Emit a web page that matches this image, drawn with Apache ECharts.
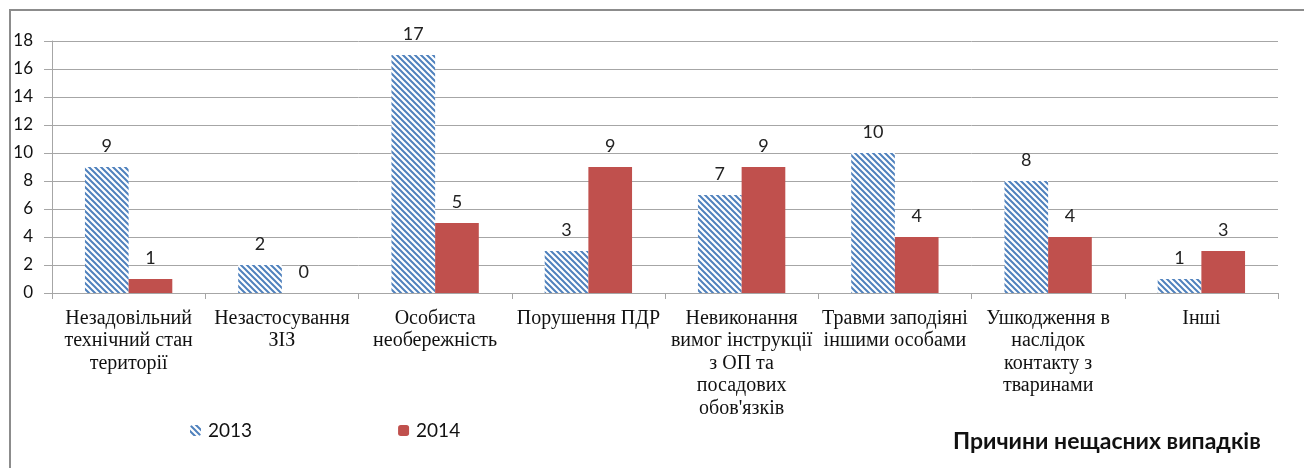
<!DOCTYPE html>
<html>
<head>
<meta charset="utf-8">
<script src="https://cdn.jsdelivr.net/npm/echarts@6/dist/echarts.min.js"></script>
<style>
  html, body { margin: 0; padding: 0; background: #fff; }
  #chart { width: 1304px; height: 468px; }
</style>
</head>
<body>
<div id="chart"></div>
<script>
const categories = [
  'Незадовільний\nтехнічний стан\nтериторії',
  'Незастосування\nЗІЗ',
  'Особиста\nнеобережність',
  'Порушення ПДР',
  'Невиконання\nвимог інструкції\nз ОП та\nпосадових\nобов\'язків',
  'Травми заподіяні\nіншими особами',
  'Ушкодження в\nнаслідок\nконтакту з\nтваринами',
  'Інші'
]
const values2013 = [9, 2, 17, 3, 7, 10, 8, 1]
const values2014 = [1, 0, 5, 9, 9, 4, 4, 3]
const seriesNames = ['2013', '2014']
const chartTitle = 'Причини нещасних випадків'

// штриховка для 2013
const hatch = document.createElement('canvas')
hatch.width = 6
hatch.height = 6
const ctx = hatch.getContext('2d')
ctx.fillStyle = '#fff'
ctx.fillRect(0, 0, 6, 6)
ctx.strokeStyle = '#4F81BD'
ctx.lineWidth = 2
ctx.beginPath()
ctx.moveTo(-1, -1); ctx.lineTo(7, 7)
ctx.moveTo(-1, 5); ctx.lineTo(1, 7)
ctx.moveTo(5, -1); ctx.lineTo(7, 1)
ctx.stroke()

const myChart = echarts.init(document.getElementById('chart'))

const labelStyle = {
  show: true,
  position: 'top',
  distance: 12,
  fontFamily: 'Lato',
  fontSize: 18,
  color: '#222'
}

const option = {
  animation: false,
  title: {
    text: chartTitle,
    left: 948,
    top: 425,
    textStyle: { fontFamily: 'Lato', fontSize: 23, fontWeight: 'bold', color: '#111' }
  },
  legend: {
    left: 185,
    top: 416,
    itemWidth: 11,
    itemHeight: 11,
    itemGap: 146,
    textStyle: { fontFamily: 'Lato', fontSize: 19, color: '#111', padding: [0, 0, 0, 2] },
    data: seriesNames
  },
  graphic: [{
    type: 'rect',
    shape: { x: 10, y: 10, width: 1400, height: 600 },
    style: { fill: 'none', stroke: '#8c8c8c', lineWidth: 2 },
    silent: true
  }],
  grid: { left: 52, right: 26, top: 41, bottom: 175, containLabel: false },
  xAxis: {
    type: 'category',
    data: categories,
    axisLine: { lineStyle: { color: '#a6a6a6', width: 1 } },
    axisTick: { show: true, length: 6, lineStyle: { color: '#a6a6a6' } },
    axisLabel: {
      interval: 0,
      margin: 14,
      fontFamily: 'Liberation Serif',
      fontSize: 20,
      lineHeight: 22.5,
      color: '#111'
    }
  },
  yAxis: {
    type: 'value',
    min: 0,
    max: 18,
    interval: 2,
    axisLine: { show: true, lineStyle: { color: '#a6a6a6', width: 1 } },
    axisTick: { show: true, length: 8, lineStyle: { color: '#a6a6a6' } },
    splitLine: { lineStyle: { color: '#a6a6a6', width: 1 } },
    axisLabel: { margin: 19, fontFamily: 'Lato', fontSize: 17, color: '#111' }
  },
  series: [
    {
      name: seriesNames[0],
      type: 'bar',
      data: values2013,
      barGap: 0,
      barCategoryGap: '43%',
      itemStyle: { color: { image: hatch, repeat: 'repeat' } },
      label: labelStyle
    },
    {
      name: seriesNames[1],
      type: 'bar',
      data: values2014,
      itemStyle: { color: '#C0504D' },
      label: labelStyle
    }
  ]
}
myChart.setOption(option)
</script>
</body>
</html>
